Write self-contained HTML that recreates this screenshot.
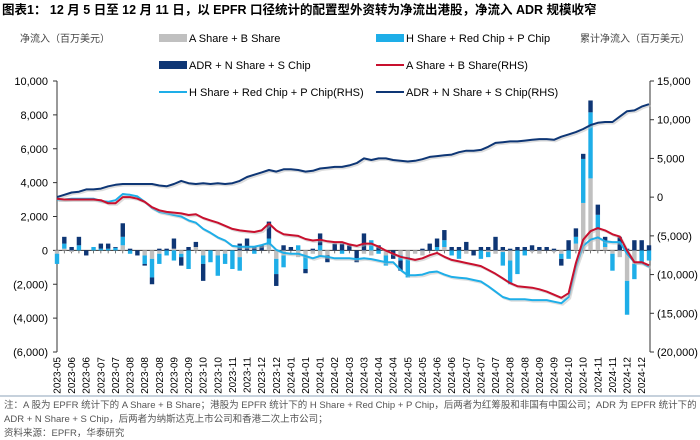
<!DOCTYPE html>
<html><head><meta charset="utf-8">
<style>
body{margin:0;background:#fff;}
svg{display:block;font-family:"Liberation Sans","Noto Sans CJK SC",sans-serif;}
</style></head>
<body>
<svg id="chart" width="700" height="440" viewBox="0 0 700 440" xmlns="http://www.w3.org/2000/svg">
<text x="2" y="14" font-size="12.5" font-weight="bold" fill="#000">图表1：  12 月 5 日至 12 月 11 日，以 EPFR 口径统计的配置型外资转为净流出港股，净流入 ADR 规模收窄</text>
<text x="20" y="42" font-size="10" fill="#444">净流入（百万美元）</text>
<text x="690" y="42" font-size="10" fill="#444" text-anchor="end">累计净流入（百万美元）</text>
<g id="legend"></g>
<g id="axes"></g>
<g id="bars"></g>
<g id="lines"></g>
<line x1="0" y1="396" x2="700" y2="396" stroke="#8ea3b8" stroke-width="1"/>
<text x="4" y="408" font-size="9.5" fill="#555">注：A 股为 EPFR 统计下的 A Share + B Share；港股为 EPFR 统计下的 H Share + Red Chip + P Chip，后两者为红筹股和非国有中国公司；ADR 为 EPFR 统计下的</text>
<text x="4" y="422" font-size="9.5" fill="#555">ADR + N Share + S Chip，后两者为纳斯达克上市公司和香港二次上市公司；</text>
<text x="4" y="436" font-size="9.5" fill="#555">资料来源：EPFR，华泰研究</text>
</svg>
<script>
const months = ["2023-05","2023-06","2023-06","2023-07","2023-07","2023-08","2023-08","2023-08","2023-09","2023-09","2023-10","2023-10","2023-11","2023-11","2023-12","2023-12","2024-01","2024-01","2024-01","2024-02","2024-03","2024-03","2024-04","2024-04","2024-05","2024-05","2024-06","2024-06","2024-07","2024-07","2024-07","2024-08","2024-08","2024-09","2024-09","2024-10","2024-10","2024-11","2024-11","2024-12","2024-12"];
const leftTicks = [10000,8000,6000,4000,2000,0,-2000,-4000,-6000];
const rightTicks = [15000,10000,5000,0,-5000,-10000,-15000,-20000];
const barA = [-200,100,-100,0,0,0,0,0,0,300,0,0,-300,-500,-200,0,100,-200,0,200,-300,0,-300,-200,0,-400,0,0,0,300,-500,-300,0,-400,-300,-200,-300,-300,0,0,0,0,-200,-300,0,-300,0,-300,-400,-200,-300,0,0,200,0,0,-200,0,0,-100,-200,-100,-600,0,0,-100,-200,0,-100,-200,0,400,2800,4250,1200,200,-200,-400,-1800,-800,0,0];
const barH = [-600,300,0,300,0,200,100,100,150,500,-200,0,-500,-1100,-600,-300,-600,-200,-1100,0,-500,-700,-1200,-600,-1100,-800,0,-200,0,400,-900,-700,0,300,-800,0,300,0,0,-200,0,0,0,600,-200,-600,0,-300,-1200,0,0,0,200,400,-300,-500,0,0,-500,-300,0,-800,-1400,-1400,-300,0,0,0,0,-300,-500,400,2600,3900,900,300,-1000,0,-2000,-900,-700,-600];
const barADR = [0,400,200,500,-300,0,300,300,50,800,100,-300,-100,-400,100,100,600,-500,200,300,-1000,0,0,0,0,400,700,200,300,1000,-700,300,200,0,-250,100,700,-400,400,400,300,-700,1000,0,300,0,-500,-600,0,0,100,400,500,600,200,200,500,-300,200,200,800,200,100,200,200,300,200,200,100,-400,600,500,300,700,600,300,0,800,100,600,600,300];
const cumA = [-200,-300,-300,-300,-300,-300,-400,-800,-800,0,0,-200,-600,-1300,-1700,-1900,-2000,-2100,-2300,-2200,-2700,-3000,-3300,-3700,-4100,-4300,-4400,-4500,-4300,-3400,-4300,-4800,-4900,-5000,-5400,-5600,-5500,-5700,-5800,-5800,-6100,-6300,-6000,-6000,-6400,-6900,-7300,-7700,-7900,-8100,-7900,-7500,-7200,-7700,-8100,-8300,-8500,-8700,-8900,-9400,-9900,-10500,-11100,-11500,-11600,-11700,-11900,-12200,-12600,-13000,-12400,-8500,-5500,-4400,-4000,-4300,-4800,-5100,-6900,-8400,-8400,-8800];
const cumH = [-300,-300,-200,-200,-200,-200,-500,-600,-400,400,300,100,-600,-1400,-1900,-2100,-2300,-2500,-3000,-3300,-4100,-4600,-5200,-5600,-6300,-6400,-6400,-6400,-6200,-5900,-6800,-7200,-7300,-7300,-7600,-7900,-7600,-7700,-7900,-7900,-7900,-8000,-7900,-8000,-8200,-8400,-8400,-9400,-10100,-10100,-10000,-9700,-9600,-10000,-10300,-10400,-10500,-10700,-10900,-11500,-12200,-12900,-13200,-13200,-13200,-13300,-13300,-13300,-13500,-13700,-12900,-9000,-6300,-5500,-5200,-5700,-5800,-5800,-7300,-8400,-8500,-9000];
const cumADR = [0,300,600,700,1000,1000,1100,1400,1600,1700,1700,1700,1700,1700,1500,1400,1700,2100,1800,1700,1800,1700,1800,1700,1800,2100,2600,2900,3200,3500,3300,3600,3600,3500,3300,3400,3700,3800,3900,3900,4100,4400,5000,4800,5000,5000,4800,4700,4600,4700,4900,5200,5300,5400,5500,5800,6000,6000,6100,6500,7000,7100,7200,7200,7300,7400,7500,7500,7400,7800,8100,8400,8800,9300,9600,9700,9700,10400,11100,11200,11700,12000];

const NS="http://www.w3.org/2000/svg";
const svg=document.getElementById('chart');
const PL=57, PR=650, PT=81, PB=352;
const N=barA.length;
const xPos=i=>PL+i*(PR-1-PL)/(N-1);
const yL=v=>PT+(10000-v)/16000*(PB-PT);
const yR=v=>PT+(15000-v)/35000*(PB-PT);
function mk(tag,attrs,parent){const e=document.createElementNS(NS,tag);for(const k in attrs)e.setAttribute(k,attrs[k]);(parent||svg).appendChild(e);return e;}
const fmt=v=>{const s=Math.abs(v).toLocaleString('en-US');return v<0?'('+s+')':s;};

const axes=document.getElementById('axes');
let e=mk('line',{x1:PL,y1:PT,x2:PL,y2:PB,stroke:'#333'},axes);


e=mk('line',{x1:PR,y1:PT,x2:PR,y2:PB,stroke:'#333'},axes);


leftTicks.forEach(v=>{
  const y=yL(v);
  mk('line',{x1:PL-4,y1:y,x2:PL,y2:y,stroke:'#333'},axes);
  const t=mk('text',{x:PL-9,y:y+4,'font-size':11,'text-anchor':'end',fill:'#000'},axes);
  t.textContent=fmt(v);
  
  
});
rightTicks.forEach(v=>{
  const y=yR(v);
  mk('line',{x1:PR,y1:y,x2:PR+4,y2:y,stroke:'#333'},axes);
  const t=mk('text',{x:PR+7,y:y+4,'font-size':11,fill:'#000'},axes);
  t.textContent=fmt(v);
  
  
});
const y0=yL(0);
e=mk('line',{x1:PL,y1:y0,x2:PR,y2:y0,stroke:'#333'},axes);


for(let i=0;i<N;i++){mk('line',{x1:xPos(i),y1:y0,x2:xPos(i),y2:y0+3,stroke:'#555','stroke-width':0.8},axes);}
months.forEach((m,k)=>{
  const x=xPos(k*2);
  const t=mk('text',{x:0,y:0,'font-size':10,'text-anchor':'end',fill:'#000',transform:`translate(${x+3.5},${PB+5}) rotate(-90)`},axes);
  t.textContent=m;
  
  
});

const bars=document.getElementById('bars');
const series=[[barA,'#c0c0c0','bar-a-share'],[barH,'#1eaee8','bar-h-share'],[barADR,'#0e3675','bar-adr']];
for(let i=0;i<N;i++){
  let pos=0,neg=0;
  series.forEach(([arr,col,name])=>{
    const v=arr[i]; if(!v) return;
    let a,b;
    if(v>0){a=pos;b=pos+v;pos=b;}else{a=neg;b=neg+v;neg=b;}
    const ya=yL(a),yb=yL(b);
    const r=mk('rect',{x:xPos(i)-2.2,y:Math.min(ya,yb),width:4.4,height:Math.abs(ya-yb),fill:col},bars);
    
    
  });
}

const lines=document.getElementById('lines');
[[cumADR,'#0e3675','line-adr-cumulative'],[cumH,'#1eaee8','line-h-share-cumulative'],[cumA,'#c8102e','line-a-share-cumulative']].forEach(([arr,col,name])=>{
  const d=arr.map((v,i)=>(i?'L':'M')+xPos(i).toFixed(1)+','+yR(v).toFixed(1)).join(' ');
  mk('path',{d:d,fill:'none',stroke:'#bbb','stroke-width':2,'stroke-opacity':0.5,transform:'translate(1.5,1.5)'},lines);
  const p=mk('path',{d:d,fill:'none',stroke:col,'stroke-width':2,'stroke-linejoin':'round'},lines);
  
  
});

const lg=document.getElementById('legend');
const items=[
 [159,38,'box','#c0c0c0','A Share + B Share','legend-a-share'],
 [376,38,'box','#1eaee8','H Share + Red Chip + P Chip','legend-h-share'],
 [159,65,'box','#0e3675','ADR + N Share + S Chip','legend-adr'],
 [376,65,'line','#c8102e','A Share + B Share(RHS)','legend-a-share-rhs'],
 [159,92,'line','#1eaee8','H Share + Red Chip + P Chip(RHS)','legend-h-share-rhs'],
 [376,92,'line','#0e3675','ADR + N Share + S Chip(RHS)','legend-adr-rhs']];
items.forEach(([x,y,type,col,label,name])=>{
  const g=mk('g',{},lg);
  
  
  if(type==='box') mk('rect',{x:x,y:y-4,width:28,height:8,fill:col},g);
  else mk('line',{x1:x,y1:y,x2:x+28,y2:y,stroke:col,'stroke-width':2},g);
  const t=mk('text',{x:x+30,y:y+4,'font-size':11,fill:'#000'},g);
  t.textContent=label;
});
</script>
</body></html>
